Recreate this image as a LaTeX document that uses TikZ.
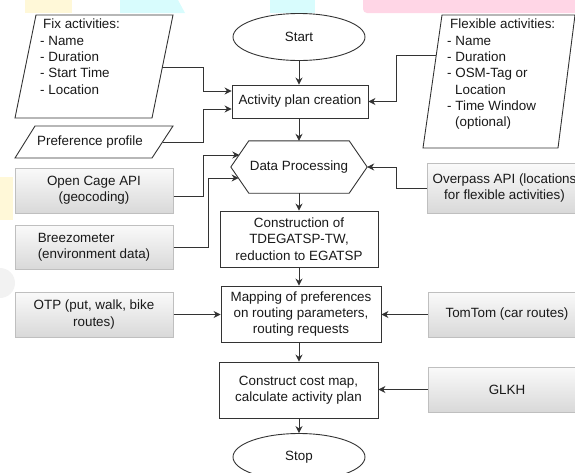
\documentclass[tikz,border=0pt]{standalone}
\usepackage{fontspec}
\setmainfont{Liberation Sans}
\usetikzlibrary{arrows.meta,positioning,calc,shapes.geometric}

\definecolor{bgyellow}{HTML}{FFF8D8}
\definecolor{bgcyan}{HTML}{D8FCFD}
\definecolor{bgpink}{HTML}{FFD6E6}

\tikzset{
  every node/.style={font=\fontsize{13.4}{16.3}\selectfont, text=black!90},
  proc/.style={draw=black!80, line width=0.9pt, fill=white, align=center},
  ext/.style={draw=black!25, line width=1pt, top color=black!2, bottom color=black!15, align=center},
  term/.style={ellipse, draw=black!80, line width=0.9pt, fill=white, minimum width=132pt, minimum height=47pt},
  para/.style={draw=black!80, line width=0.9pt},
  paratext/.style={align=left, inner sep=0pt},
  flow/.style={draw=black!80, line width=0.9pt, arrows={-Stealth[length=7pt,width=7pt]}}
}

\begin{document}
\begin{tikzpicture}[x=1pt,y=-1pt]
\path[use as bounding box,clip] (0,0) rectangle (575,472);
% faint background bits
\fill[bgyellow] (25,0) rectangle (72,13);
\fill[bgcyan] (120,0) -- (178,0) -- (185,13) -- (120,13) -- cycle;
\fill[bgcyan] (270,0) rectangle (315,13);
\fill[bgpink,rounded corners=4pt] (363,-10) rectangle (585,13);
\fill[bgyellow] (-5,177) rectangle (13,220);
\fill[black!5] (0,283) circle[radius=15];

% terminals and process steps
\node[term] (start) at (299,37) {Start};
\node[proc, minimum width=136pt, minimum height=33pt] (plan) at (300,101.5) {Activity plan creation};
\node[minimum width=136pt, minimum height=52pt] (dp) at (299,167) {Data Processing};
\draw[para] (dp.west) -- ([xshift=18pt]dp.north west) -- ([xshift=-18pt]dp.north east)
  -- (dp.east) -- ([xshift=-18pt]dp.south east) -- ([xshift=18pt]dp.south west) -- cycle;
\node[proc, minimum width=158pt, minimum height=56pt] (cons) at (299,239)
  {Construction of\\TDEGATSP-TW,\\reduction to EGATSP};
\node[proc, minimum width=160pt, minimum height=56pt] (map) at (301,314)
  {Mapping of preferences\\on routing parameters,\\routing requests};
\node[proc, minimum width=159pt, minimum height=56pt] (cost) at (298.5,390)
  {Construct cost map,\\calculate activity plan};
\node[term] (stop) at (299,457) {Stop};

% inputs
\draw[para, fill=white] (36,15) -- (173,15) -- (152,118) -- (15,118) -- cycle;
\node[paratext, anchor=north west] (fix) at (40,19)
  {\hspace*{3pt}Fix activities:\\- Name\\- Duration\\- Start Time\\- Location};
\draw[para, fill=white] (35,126) -- (173,126) -- (152,158) -- (15,158) -- cycle;
\node (pref) at (90,142) {Preference profile};
\draw[para, fill=white] (442,15) -- (575,15) -- (558,148) -- (423,148) -- cycle;
\node[paratext, anchor=north west] (flex) at (447,19)
  {\hspace*{3pt}Flexible activities:\\- Name\\- Duration\\- OSM-Tag or\\\hspace*{8pt}Location\\- Time Window\\\hspace*{8pt}(optional)};

% external services
\node[ext, minimum width=158pt, minimum height=45pt] (cage) at (94,190.5) {Open Cage API\\(geocoding)};
\node[ext, minimum width=158pt, minimum height=44pt, align=left] (breezo) at (94,247) {Breezometer\\(environment data)};
\node[ext, minimum width=158pt, minimum height=45pt] (otp) at (94,314.5) {OTP (put, walk, bike\\routes)};
\node[ext, minimum width=154pt, minimum height=50pt] (overpass) at (504.5,188) {Overpass API (locations\\for flexible activities)};
\node[ext, minimum width=158pt, minimum height=45pt] (tomtom) at (507,314.5) {TomTom (car routes)};
\node[ext, minimum width=158pt, minimum height=45pt] (glkh) at (507,389.5) {GLKH};

% connector ends on slanted edges
\coordinate (fixout) at (162.4,67);
\coordinate (prefout) at (162.5,142);
\coordinate (flexout) at (436.3,55);
\coordinate (dpin1) at (239.3,155);
\coordinate (dpin2) at (238.6,178);

% main flow
\draw[flow] (start.south) -- (start.south |- plan.north);
\draw[flow] (plan.south -| start.south) -- (start.south |- dp.north);
\draw[flow] (dp.south) -- (dp.south |- cons.north);
\draw[flow] (cons.south) -- (cons.south |- map.north);
\draw[flow] (map.south -| cons.south) -- (cons.south |- cost.north);
\draw[flow] (cost.south -| stop.north) -- (stop.north);

% side inputs
\draw[flow] (fixout) -- ++(41,0) |- ([yshift=10.5pt]plan.west);
\draw[flow] (prefout) -- ++(40.5,0) |- ([yshift=-7.5pt]plan.west);
\draw[flow] (flexout) -- ++(-40,0) |- (plan.east);
\draw[flow] ([yshift=-5.5pt]cage.east) -- ++(30,0) |- (dpin1);
\draw[flow] (breezo.east) -- ++(35,0) |- (dpin2);
\draw[flow] (overpass.west) -- ++(-31,0) |- (dp.east);
\draw[flow] (otp.east) -- (otp.east -| map.west);
\draw[flow] (tomtom.west) -- (tomtom.west -| map.east);
\draw[flow] (glkh.west) -- (glkh.west -| cost.east);
\end{tikzpicture}
\end{document}
